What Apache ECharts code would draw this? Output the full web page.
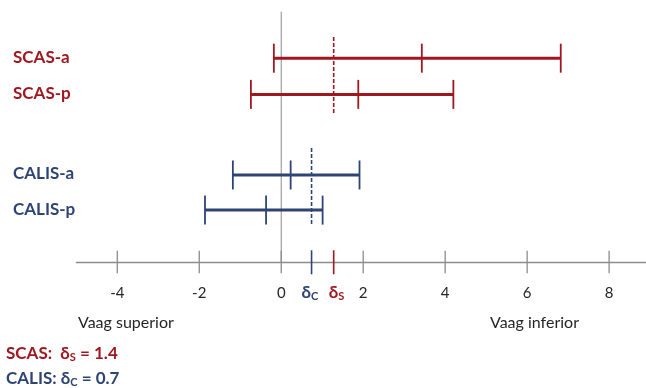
<!DOCTYPE html>
<html>
<head>
<meta charset="utf-8">
<script src="https://cdn.jsdelivr.net/npm/echarts@6/dist/echarts.min.js"></script>
<style>
  html, body { margin: 0; padding: 0; background: #fff; }
  #chart { width: 646px; height: 388px; }
</style>
</head>
<body>
<div id="chart"></div>
<script>
// data
var scasNames = ['SCAS-a', 'SCAS-p'];
var scasLow = [-0.18, -0.74];
var scasMid = [3.43, 1.88];
var scasHigh = [6.82, 4.20];
var scasRow = [5.75, 4.73];

var calisNames = ['CALIS-a', 'CALIS-p'];
var calisLow = [-1.18, -1.86];
var calisMid = [0.23, -0.37];
var calisHigh = [1.91, 1.01];
var calisRow = [2.46, 1.47];

// dashed reference lines: x, top row, bottom row
var scasDelta = [1.28, 6.35, 4.15];
var calisDelta = [0.74, 3.22, 1.05];

var tickValues = [-4, -2, 0, 2, 4, 6, 8];
var zeroLineTop = 7.06;

var RED = '#A0181F';
var BLUE = '#2E4474';
var FONT = 'Lato';

var chart = echarts.init(document.getElementById('chart'));

function intervalSeries(names, low, mid, high, row, color) {
    var data = [];
    for (var i = 0; i < names.length; i++) {
        data.push([row[i], low[i], mid[i], high[i], names[i]]);
    }
    return {
        type: 'custom',
        silent: true,
        clip: false,
        data: data,
        renderItem: function (params, api) {
            var y = api.coord([0, api.value(0)])[1];
            var lo = api.coord([api.value(1), 0])[0];
            var md = api.coord([api.value(2), 0])[0];
            var hi = api.coord([api.value(3), 0])[0];
            var h = 14.5;
            var cap = function (x) {
                return { type: 'line', shape: { x1: x, y1: y - h, x2: x, y2: y + h },
                    style: { stroke: color, lineWidth: 1.8 } };
            };
            return {
                type: 'group',
                children: [
                    { type: 'line', shape: { x1: lo, y1: y, x2: hi, y2: y },
                        style: { stroke: color, lineWidth: 3 } },
                    cap(lo), cap(md), cap(hi),
                    { type: 'text', x: 13, y: y - 1,
                        style: { text: api.value(4), fill: color, font: 'bold 17px ' + FONT,
                            textAlign: 'left', textVerticalAlign: 'middle' } }
                ]
            };
        }
    };
}

function dashedSeries(d, color) {
    return {
        type: 'custom',
        silent: true,
        clip: false,
        data: [d],
        renderItem: function (params, api) {
            var p1 = api.coord([api.value(0), api.value(1)]);
            var p2 = api.coord([api.value(0), api.value(2)]);
            return { type: 'line', shape: { x1: p1[0], y1: p1[1], x2: p2[0], y2: p2[1] },
                style: { stroke: color, lineWidth: 1.6, lineDash: [4, 2] } };
        }
    };
}

// delta markers on the axis
var markerData = [
    [calisDelta[0], 'C', BLUE, -10],
    [scasDelta[0], 'S', RED, -5]
];

chart.setOption({
    animation: false,
    grid: { left: 76.3, right: 0, top: 13.8, bottom: 125.7 },
    xAxis: {
        type: 'value',
        min: -5,
        max: 8.9,
        splitLine: { show: false },
        axisLine: { lineStyle: { color: '#8c8c8c', width: 1.3 } },
        axisTick: { show: false },
        axisLabel: {
            customValues: tickValues,
            color: '#262626',
            fontFamily: FONT,
            fontSize: 15,
            margin: 23
        }
    },
    yAxis: { type: 'value', min: 0, max: 7, show: false },
    graphic: [
        { type: 'text', left: 78, top: 315,
            style: { text: 'Vaag superior', fill: '#262626', font: '16px ' + FONT } },
        { type: 'text', left: 490, top: 315,
            style: { text: 'Vaag inferior', fill: '#262626', font: '16px ' + FONT } },
        { type: 'text', left: 6, top: 345,
            style: {
                text: 'SCAS:  δ{s|S} = 1.4',
                fill: RED, font: 'bold 17px ' + FONT,
                rich: { s: { fontSize: 11, fontWeight: 'bold', fill: RED, fontFamily: FONT, padding: [8, 0, 0, 0] } }
            } },
        { type: 'text', left: 6, top: 370,
            style: {
                text: 'CALIS: δ{s|C} = 0.7',
                fill: BLUE, font: 'bold 17px ' + FONT,
                rich: { s: { fontSize: 11, fontWeight: 'bold', fill: BLUE, fontFamily: FONT, padding: [8, 0, 0, 0] } }
            } }
    ],
    series: [
        // zero line
        {
            type: 'custom', silent: true, clip: false,
            data: [[0, zeroLineTop]],
            renderItem: function (params, api) {
                var p1 = api.coord([api.value(0), api.value(1)]);
                var p2 = api.coord([api.value(0), 0]);
                return { type: 'line', shape: { x1: p1[0], y1: p1[1], x2: p2[0], y2: p2[1] },
                    style: { stroke: '#8c8c8c', lineWidth: 1 } };
            }
        },
        // crossing ticks
        {
            type: 'custom', silent: true, clip: false,
            data: tickValues,
            renderItem: function (params, api) {
                var p = api.coord([api.value(0), 0]);
                return { type: 'line', shape: { x1: p[0], y1: p[1] - 11.5, x2: p[0], y2: p[1] + 11 },
                    style: { stroke: '#8c8c8c', lineWidth: 1.3 } };
            }
        },
        dashedSeries(scasDelta, RED),
        dashedSeries(calisDelta, BLUE),
        intervalSeries(scasNames, scasLow, scasMid, scasHigh, scasRow, RED),
        intervalSeries(calisNames, calisLow, calisMid, calisHigh, calisRow, BLUE),
        // delta markers
        {
            type: 'custom', silent: true, clip: false,
            data: markerData,
            renderItem: function (params, api) {
                var d = markerData[params.dataIndex];
                var p = api.coord([d[0], 0]);
                return {
                    type: 'group',
                    children: [
                        { type: 'line', shape: { x1: p[0], y1: p[1] - 12, x2: p[0], y2: p[1] + 12 },
                            style: { stroke: d[2], lineWidth: 1.6 } },
                        { type: 'text', x: p[0] + d[3], y: p[1] + 30,
                            style: {
                                text: 'δ{s|' + d[1] + '}', fill: d[2], font: 'bold 17px ' + FONT,
                                textAlign: 'left', textVerticalAlign: 'middle',
                                rich: { s: { fontSize: 11, fontWeight: 'bold', fill: d[2], fontFamily: FONT, padding: [8, 0, 0, 0] } }
                            } }
                    ]
                };
            }
        }
    ]
});
</script>
</body>
</html>
